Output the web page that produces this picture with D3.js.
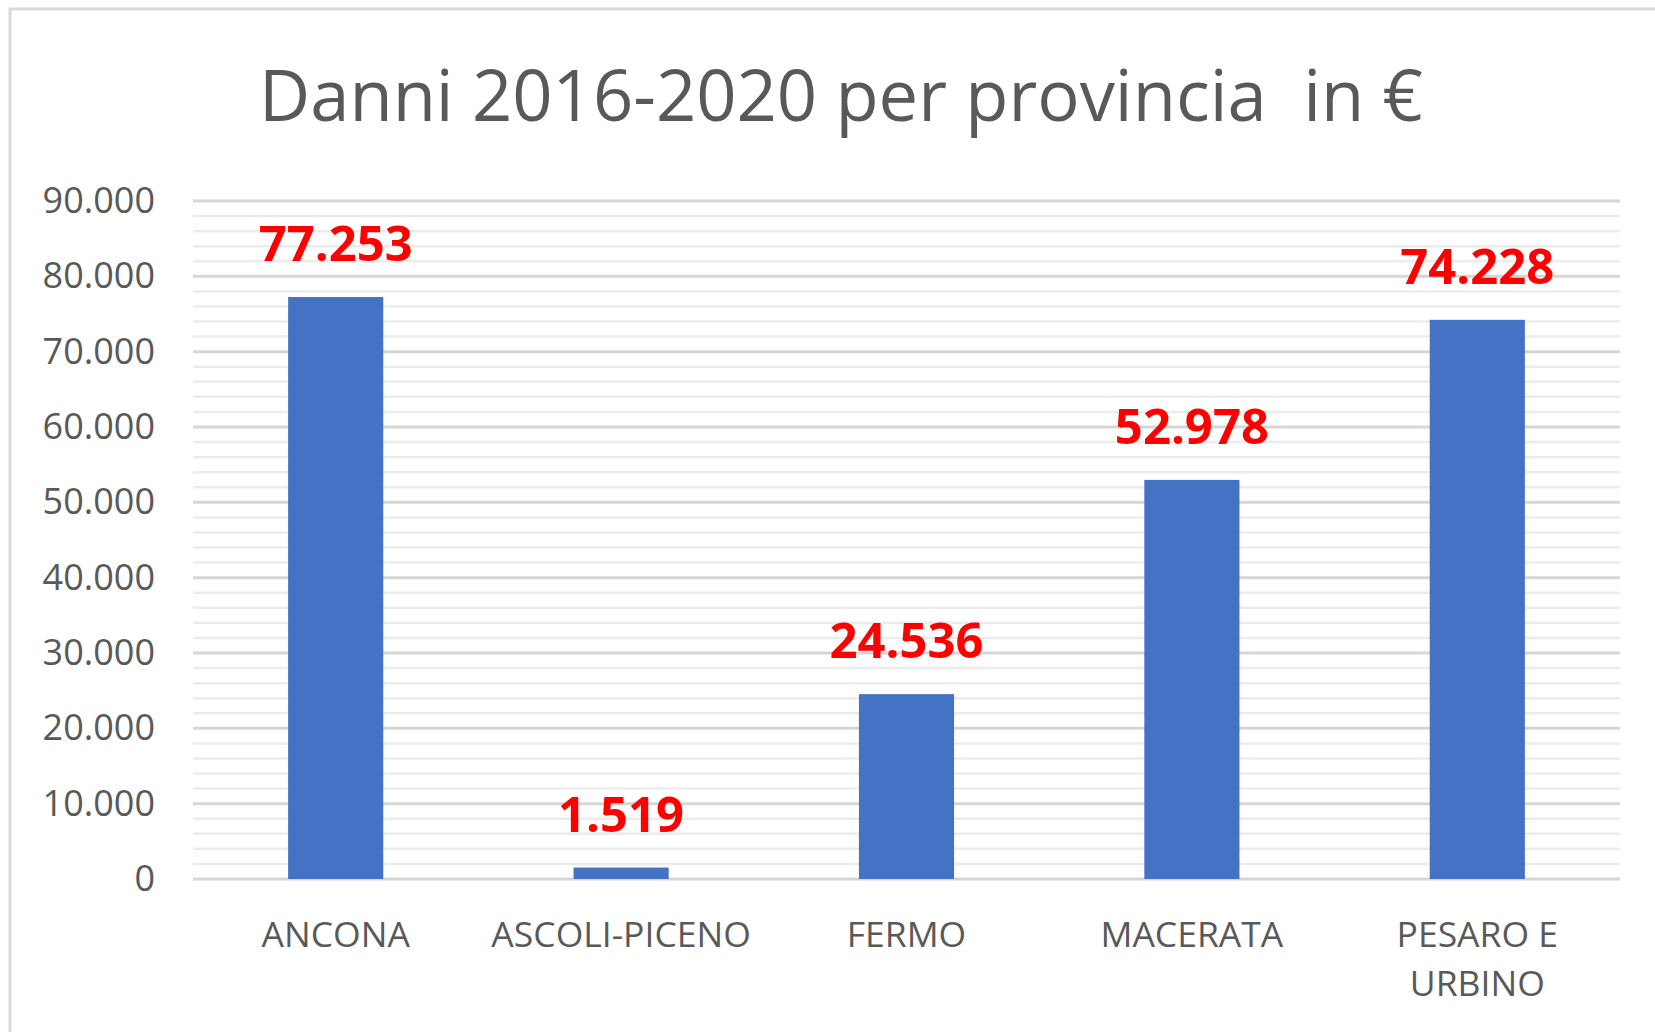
<!DOCTYPE html>
<html>
<head>
<meta charset="utf-8">
<script src="https://cdn.jsdelivr.net/npm/d3@7"></script>
<style>
  body { margin: 0; background: #fff; }
  svg { display: block; }
  text { font-family: "Open Sans", "Noto Sans", sans-serif; }
</style>
</head>
<body>
<div id="chart"></div>
<script>
"use strict";
// dati
const province = ["ANCONA", "ASCOLI-PICENO", "FERMO", "MACERATA", "PESARO E URBINO"];
const danni = [77253, 1519, 24536, 52978, 74228];
const yTicks = [0, 10000, 20000, 30000, 40000, 50000, 60000, 70000, 80000, 90000];
const titolo = "Danni 2016-2020 per provincia  in €";

const width = 1655, height = 1032;
const margin = {top: 201, right: 35, bottom: 153, left: 193};

const fmt = d3.formatLocale({decimal: ",", thousands: ".", grouping: [3], currency: ["€", ""]}).format(",.0f");

const svg = d3.select("#chart").append("svg")
    .attr("width", width).attr("height", height);

// cornice
svg.append("rect")
    .attr("x", 10).attr("y", 9)
    .attr("width", width).attr("height", height)
    .attr("fill", "#fff")
    .attr("stroke", "#d9d9d9").attr("stroke-width", 3);

const x = d3.scaleBand()
    .domain(province)
    .range([margin.left, width - margin.right])
    .paddingInner(2 / 3)
    .paddingOuter(1 / 3);

const y = d3.scaleLinear()
    .domain([0, 90000])
    .range([height - margin.bottom, margin.top]);

// griglia secondaria (ogni 2.000)
const g = svg.append("g");
g.selectAll(".minor").data(d3.range(0, 90001, 2000).filter(v => v % 10000 !== 0))
    .join("line").attr("class", "minor")
    .attr("x1", margin.left).attr("x2", width - margin.right)
    .attr("y1", d => y(d)).attr("y2", d => y(d))
    .attr("stroke", "#ececec").attr("stroke-width", 2.5);

// griglia principale
g.selectAll(".major").data(yTicks)
    .join("line").attr("class", "major")
    .attr("x1", margin.left).attr("x2", width - margin.right)
    .attr("y1", d => y(d)).attr("y2", d => y(d))
    .attr("stroke", "#d6d6d6").attr("stroke-width", 3);

// asse y
const yAxis = svg.append("g")
    .attr("transform", `translate(${margin.left},0)`)
    .call(d3.axisLeft(y).tickValues(yTicks).tickFormat(fmt).tickSize(0).tickPadding(38));
yAxis.select(".domain").remove();
yAxis.selectAll("text")
    .attr("fill", "#595959")
    .style("font-size", "36px");

// barre
svg.selectAll(".bar").data(danni)
    .join("rect").attr("class", "bar")
    .attr("x", (d, i) => x(province[i]))
    .attr("width", x.bandwidth())
    .attr("y", d => y(d))
    .attr("height", d => y(0) - y(d))
    .attr("fill", "#4472c4");

// etichette valori
svg.selectAll(".lbl").data(danni)
    .join("text").attr("class", "lbl")
    .attr("x", (d, i) => x(province[i]) + x.bandwidth() / 2)
    .attr("y", d => y(d) - 36)
    .attr("text-anchor", "middle")
    .attr("fill", "#ff0000")
    .style("font-size", "49px").style("font-weight", "bold")
    .text(d => fmt(d));

// asse x
const xl = svg.selectAll(".xl").data(province)
    .join("text").attr("class", "xl")
    .attr("x", d => x(d) + x.bandwidth() / 2)
    .attr("y", 947)
    .attr("text-anchor", "middle")
    .attr("fill", "#595959")
    .style("font-size", "35.5px");
xl.selectAll("tspan")
    .data(d => d === "PESARO E URBINO" ? ["PESARO E", "URBINO"] : [d])
    .join("tspan")
    .attr("x", function () { return this.parentNode.getAttribute("x"); })
    .attr("dy", (d, i) => i === 0 ? 0 : 49)
    .text(d => d);

// titolo
svg.append("text")
    .attr("x", 841).attr("y", 121)
    .attr("text-anchor", "middle")
    .attr("fill", "#595959")
    .style("font-size", "70.5px")
    .style("white-space", "pre")
    .attr("xml:space", "preserve")
    .text(titolo);
</script>
</body>
</html>
